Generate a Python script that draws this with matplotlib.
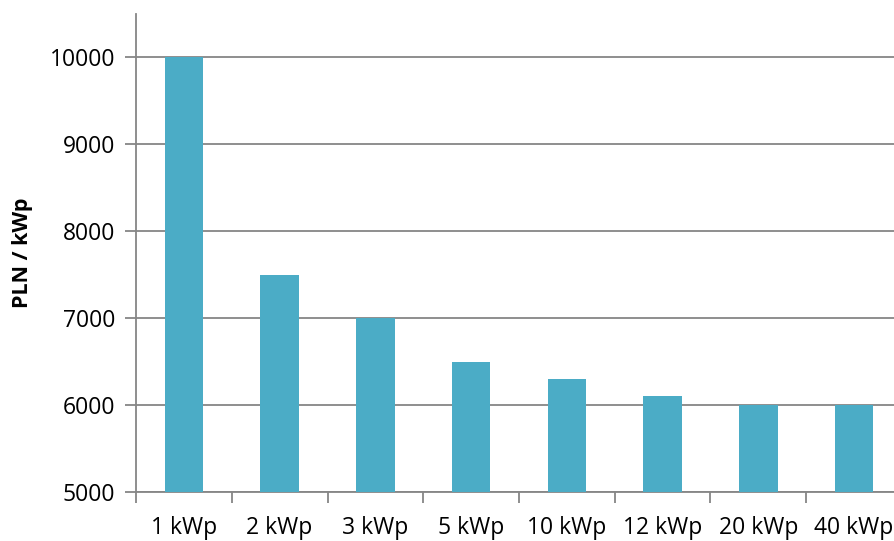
import numpy as np
import matplotlib
matplotlib.use("Agg")
import matplotlib.pyplot as plt
from matplotlib.ticker import FixedLocator, NullFormatter

# Chart data
categories = ["1 kWp", "2 kWp", "3 kWp", "5 kWp", "10 kWp", "12 kWp", "20 kWp", "40 kWp"]
price_per_kwp = [10000, 7500, 7000, 6500, 6300, 6100, 6000, 6000]
y_ticks = [5000, 6000, 7000, 8000, 9000, 10000]

plt.rcParams["font.family"] = ["Open Sans", "DejaVu Sans"]

W, H = 894, 541
fig = plt.figure(figsize=(W / 100, H / 100), dpi=100)

# axes placed in pixel terms (right edge is slightly cropped, like the original)
left, right, top, bottom = 136, 902, 13.5, 492
ax = fig.add_axes([left / W, (H - bottom) / H, (right - left) / W, (bottom - top) / H])

grey = "#868686"
x = np.arange(len(categories))
ax.bar(x, price_per_kwp, width=0.4, color="#4BACC6", zorder=3)

ax.set_xlim(-0.5, len(categories) - 0.5)
ax.set_ylim(5000, 10500)
ax.set_yticks(y_ticks)
ax.yaxis.grid(True, color=grey, linewidth=1.3, zorder=0)

# boundary ticks on x, labels centred under bars
ax.xaxis.set_major_locator(FixedLocator(np.arange(-0.5, len(categories), 1.0)))
ax.xaxis.set_major_formatter(NullFormatter())
ax.xaxis.set_minor_locator(FixedLocator(x))
ax.set_xticklabels(categories, minor=True)
ax.tick_params(axis="x", which="major", length=8, width=1.3, color=grey, direction="out")
ax.tick_params(axis="x", which="minor", length=0, pad=17, labelsize=16.5)
ax.tick_params(axis="y", length=8, width=1.3, color=grey, direction="out", pad=7, labelsize=16.5)

for side in ["top", "right"]:
    ax.spines[side].set_visible(False)
for side in ["left", "bottom"]:
    ax.spines[side].set_color(grey)
    ax.spines[side].set_linewidth(1.3)

ax.set_ylabel("PLN / kWp", fontsize=15.5, fontweight="bold", labelpad=12)

fig.savefig("out.png", dpi=100)
